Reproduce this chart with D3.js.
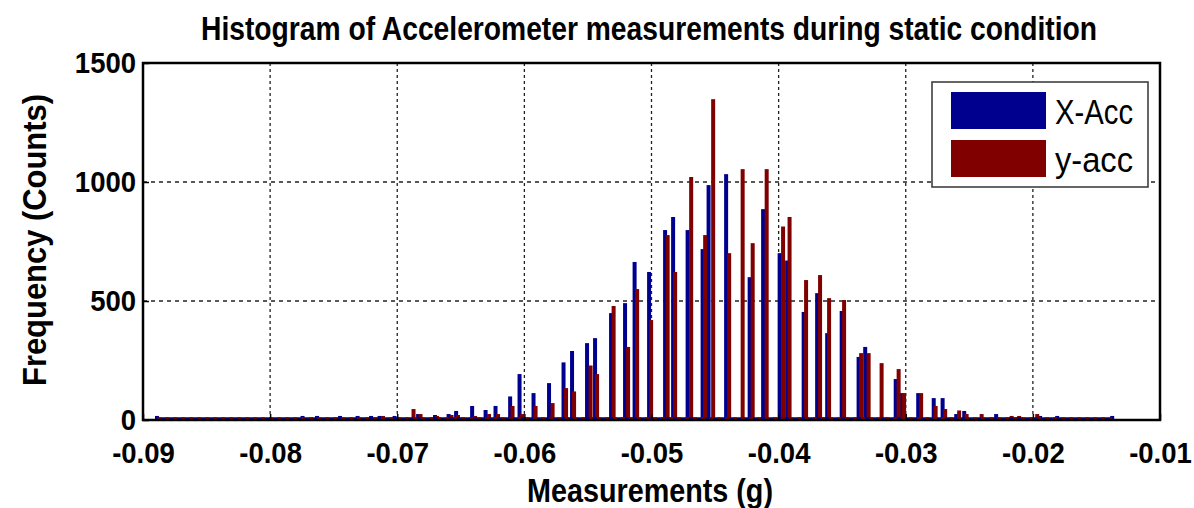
<!DOCTYPE html>
<html>
<head>
<meta charset="utf-8">
<script src="https://cdn.jsdelivr.net/npm/d3@7"></script>
<style>
  body { margin: 0; background: #fff; }
  svg { display: block; font-family: "Liberation Sans", Arial, sans-serif; }
</style>
</head>
<body>
<div id="chart"></div>
<script>
const width = 1194;
const height = 508;

// bin centres (g) and counts
const xAccBins = [-0.0889, -0.07745, -0.07631, -0.0745, -0.07312, -0.07206, -0.07139, -0.07021,
  -0.06836, -0.06703, -0.06596, -0.06537, -0.06411, -0.06305, -0.06227, -0.06112, -0.06038,
  -0.05928, -0.05806, -0.05692, -0.05625, -0.05507, -0.05444, -0.05318, -0.05208, -0.05133,
  -0.05019, -0.04893, -0.0483, -0.04716, -0.04598, -0.04551, -0.04413, -0.04228, -0.04122,
  -0.03992, -0.03933, -0.03803, -0.03697, -0.03618, -0.03504, -0.03371, -0.03319, -0.03079,
  -0.03032, -0.02902, -0.0278, -0.0271, -0.02603, -0.0254, -0.02407, -0.02289, -0.02178,
  -0.02116, -0.01943, -0.01809, -0.01376];
const xAccCounts = [17, 17, 17, 17, 17, 17, 17, 17,
  25, 21, 25, 38, 59, 42, 59, 99, 193,
  113, 155, 242, 290, 323, 344, 449, 491, 664,
  622, 798, 853, 798, 718, 987, 1033, 600, 886,
  701, 670, 454, 533, 365, 458, 265, 307, 172,
  113, 113, 92, 92, 25, 38, 10, 25, 10,
  10, 17, 17, 17];

const yAccBins = [-0.07112, -0.06872, -0.06817, -0.06687, -0.06573, -0.06522, -0.06388, -0.06278,
  -0.06207, -0.06093, -0.06018, -0.05912, -0.05778, -0.05672, -0.05609, -0.05479, -0.05428,
  -0.05298, -0.05184, -0.05113, -0.05003, -0.04873, -0.04814, -0.04688, -0.04578, -0.04515,
  -0.04389, -0.04283, -0.04204, -0.04094, -0.03965, -0.03914, -0.03784, -0.03674, -0.03603,
  -0.03485, -0.03351, -0.03292, -0.0319, -0.03056, -0.03013, -0.02879, -0.02765, -0.0269,
  -0.0258, -0.02521, -0.02403, -0.02167, -0.02108, -0.01966];
const yAccCounts = [17, 46, 25, 17, 21, 21, 17, 25,
  25, 59, 25, 59, 71, 134, 120, 229, 193,
  479, 307, 550, 420, 777, 622, 1021, 777, 1348,
  701, 1054, 743, 1054, 813, 853, 588, 609, 512,
  504, 281, 281, 239, 214, 113, 113, 59, 46,
  40, 25, 25, 17, 17, 25];

const xTicks = [-0.09, -0.08, -0.07, -0.06, -0.05, -0.04, -0.03, -0.02, -0.01];
const yTicks = [0, 500, 1000, 1500];
const seriesNames = ["X-Acc", "y-acc"];
const seriesColors = ["#00008f", "#800000"];

const margin = {top: 63, right: 34, bottom: 88, left: 143};
const plotW = width - margin.left - margin.right;
const plotH = height - margin.top - margin.bottom;
const stretch = 1.3; // el texto original sale estirado en vertical
const tickStretch = 1.08;

const svg = d3.select("#chart").append("svg")
  .attr("width", width)
  .attr("height", height);

const g = svg.append("g").attr("transform", `translate(${margin.left},${margin.top})`);

const x = d3.scaleLinear().domain([-0.09, -0.01]).range([0, plotW]);
const y = d3.scaleLinear().domain([0, 1500]).range([plotH, 0]);

// rejilla punteada
g.append("g").selectAll("line")
  .data(xTicks.slice(1, -1))
  .join("line")
  .attr("x1", d => x(d)).attr("x2", d => x(d))
  .attr("y1", 0).attr("y2", plotH)
  .attr("stroke", "#222").attr("stroke-width", 1.3)
  .attr("stroke-dasharray", "3,3");

g.append("g").selectAll("line")
  .data(yTicks.slice(1, -1))
  .join("line")
  .attr("x1", 0).attr("x2", plotW)
  .attr("y1", d => y(d)).attr("y2", d => y(d))
  .attr("stroke", "#222").attr("stroke-width", 1.3)
  .attr("stroke-dasharray", "4,4");

const barW = 4;

// barras
g.append("g").selectAll("rect")
  .data(xAccBins.map((b, i) => ({b, c: xAccCounts[i]})))
  .join("rect")
  .attr("x", d => x(d.b) - barW / 2)
  .attr("y", d => y(d.c))
  .attr("width", barW)
  .attr("height", d => plotH - y(d.c))
  .attr("fill", seriesColors[0]);

g.append("g").selectAll("rect")
  .data(yAccBins.map((b, i) => ({b, c: yAccCounts[i]})))
  .join("rect")
  .attr("x", d => x(d.b) - barW / 2)
  .attr("y", d => y(d.c))
  .attr("width", barW)
  .attr("height", d => plotH - y(d.c))
  .attr("fill", seriesColors[1]);

// zero-height bars along the baseline
const baseX0 = x(d3.min(xAccBins)), baseX1 = x(d3.max(xAccBins));
g.append("line")
  .attr("x1", baseX0).attr("x2", baseX1)
  .attr("y1", plotH - 1.5).attr("y2", plotH - 1.5)
  .attr("stroke", seriesColors[0]).attr("stroke-width", 2.5);
g.append("line")
  .attr("x1", baseX0).attr("x2", baseX1)
  .attr("y1", plotH - 1.5).attr("y2", plotH - 1.5)
  .attr("stroke", seriesColors[1]).attr("stroke-width", 2.5)
  .attr("stroke-dasharray", "4,4");

// ejes
const fmtX = d => d.toFixed(2);  // guion normal, no signo menos
const xAxis = g.append("g")
  .attr("transform", `translate(0,${plotH})`)
  .call(d3.axisBottom(x).tickValues(xTicks).tickSize(-6).tickFormat(fmtX));
const yAxis = g.append("g")
  .call(d3.axisLeft(y).tickValues(yTicks).tickSize(-6).tickFormat(d3.format("d")));

[xAxis, yAxis].forEach(a => {
  a.select(".domain").remove();
  a.selectAll(".tick line").attr("stroke", "#000").attr("stroke-width", 1.5);
  a.selectAll(".tick text")
    .attr("fill", "#000")
    .attr("dy", null)
    .attr("transform", `scale(1,${tickStretch})`)
    .style("font-size", "27.5px")
    .style("font-weight", "bold");
});
xAxis.selectAll(".tick text").attr("y", 43 / tickStretch);
yAxis.selectAll(".tick text").attr("x", -7).attr("y", 9 / tickStretch);

// caja
g.append("rect")
  .attr("width", plotW).attr("height", plotH)
  .attr("fill", "none").attr("stroke", "#000").attr("stroke-width", 2.5);

// texto estirado
function stretchedText(parent, px, py, str, opts) {
  const t = parent.append("g")
    .attr("transform", `translate(${px},${py})${opts.rotate ? " rotate(-90)" : ""}`)
    .append("text")
    .attr("transform", `scale(1,${stretch})`)
    .attr("text-anchor", opts.anchor || "middle")
    .style("font-size", opts.size + "px")
    .style("font-weight", opts.bold ? "bold" : "normal")
    .text(str);
  if (opts.len) t.attr("textLength", opts.len).attr("lengthAdjust", "spacingAndGlyphs");
  return t;
}

// leyenda
const leg = svg.append("g").attr("transform", "translate(932,82)");
leg.append("rect")
  .attr("width", 216).attr("height", 105)
  .attr("fill", "#fff").attr("stroke", "#333").attr("stroke-width", 1.5);
seriesNames.forEach((name, i) => {
  leg.append("rect")
    .attr("x", 19).attr("y", 10 + i * 48)
    .attr("width", 95).attr("height", 37)
    .attr("fill", seriesColors[i]);
  stretchedText(leg, 123, 42 + i * 48, name, {anchor: "start", size: 27, len: 78});
});

// títulos
stretchedText(svg, 649, 40, "Histogram of Accelerometer measurements during static condition",
  {size: 26, bold: true, len: 896});
stretchedText(svg, 650, 502, "Measurements (g)", {size: 26, bold: true, len: 246});
stretchedText(svg, 46, 240, "Frequency (Counts)", {size: 26, bold: true, len: 292, rotate: true});
</script>
</body>
</html>
